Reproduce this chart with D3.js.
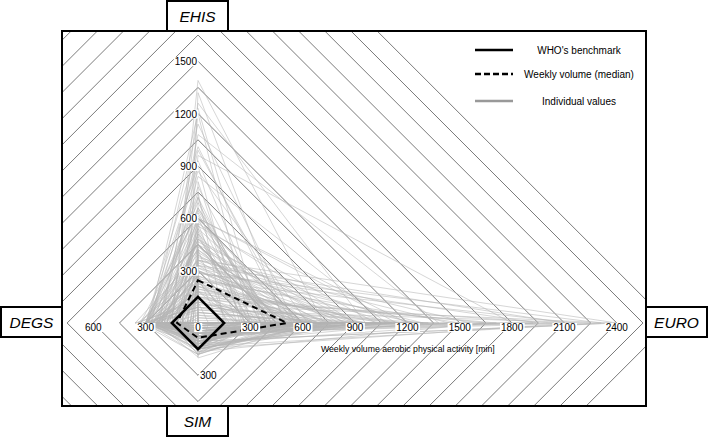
<!DOCTYPE html>
<html>
<head>
<meta charset="utf-8">
<script src="https://cdnjs.cloudflare.com/ajax/libs/d3/7.8.5/d3.min.js"></script>
<style>
  body { margin: 0; background: #fff; }
  svg { font-family: "Liberation Sans", Arial, sans-serif; }
</style>
</head>
<body>
<div id="chart"></div>
<script>
// axes, clockwise from the top
const axes = ["EHIS", "EURO", "SIM", "DEGS"];

// tick labels per axis (min)
const ehisTicks = [300, 600, 900, 1200, 1500];
const euroTicks = [0, 300, 600, 900, 1200, 1500, 1800, 2100, 2400];
const degsTicks = [300, 600];
const simTicks = [300];

// benchmark and median polygons: EHIS, EURO, SIM, DEGS
const whoBenchmark = [150, 150, 150, 150];
const weeklyMedian = [245, 510, 85, 120];

// individual values, one entry per person
const ehisValues = [
  420, 180, 600, 90, 300, 720, 240, 0, 1390, 360,
  150, 540, 60, 480, 210, 840, 120, 330, 660, 30,
  270, 1260, 390, 90, 510, 180, 960, 450, 0, 240,
  600, 135, 315, 75, 1200, 570, 225, 420, 45, 780,
  300, 165, 630, 360, 15, 900, 255, 480, 120, 345,
  690, 60, 1080, 210, 525, 285, 0, 405, 150, 750,
  195, 600, 330, 105, 1320, 450, 240, 555, 30, 375,
  870, 180, 270, 615, 90, 420, 1140, 300, 135, 495,
  225, 660, 60, 360, 1010, 270, 180, 540, 0, 435,
  315, 720, 120, 585, 240, 990, 390, 45, 465, 210,
  645, 150, 300, 810, 75, 510, 270, 1230, 360, 195,
  570, 0, 420, 240, 930, 330, 120, 480, 285, 600
];
const euroValues = [
  600, 240, 1200, 420, 900, 360, 1500, 180, 720, 2400,
  540, 300, 840, 0, 660, 1080, 450, 2100, 390, 780,
  120, 960, 510, 1320, 270, 630, 1800, 345, 570, 210,
  1140, 480, 750, 2250, 300, 900, 600, 165, 1020, 420,
  690, 1650, 360, 540, 810, 240, 1260, 480, 60, 930,
  390, 720, 1380, 570, 270, 1950, 450, 660, 840, 150,
  1110, 315, 600, 2370, 495, 780, 225, 1020, 405, 1560,
  630, 345, 870, 450, 1200, 0, 555, 690, 2040, 300,
  960, 420, 735, 1440, 510, 180, 1170, 600, 375, 810,
  1290, 255, 660, 465, 2160, 540, 720, 330, 900, 1050,
  405, 1710, 585, 270, 1005, 480, 630, 360, 1230, 780,
  225, 1920, 510, 675, 390, 1110, 450, 840, 2310, 570
];
const simValues = [
  60, 120, 0, 90, 150, 30, 75, 180, 45, 105,
  0, 135, 60, 90, 200, 15, 120, 45, 75, 150,
  30, 90, 165, 0, 60, 105, 45, 120, 180, 75,
  90, 0, 150, 60, 30, 135, 105, 15, 75, 120,
  45, 165, 90, 0, 60, 150, 30, 120, 195, 75,
  105, 45, 0, 90, 135, 60, 120, 30, 150, 15,
  75, 180, 45, 105, 90, 0, 60, 135, 120, 30,
  150, 75, 15, 90, 45, 165, 105, 60, 0, 120,
  30, 90, 150, 75, 45, 105, 0, 180, 60, 135,
  120, 15, 90, 45, 150, 75, 30, 105, 165, 60,
  0, 120, 45, 90, 75, 135, 15, 150, 60, 105,
  90, 30, 180, 60, 120, 0, 75, 45, 135, 90
];
const degsValues = [
  180, 240, 120, 300, 60, 210, 270, 0, 150, 330,
  90, 255, 300, 180, 30, 225, 360, 120, 285, 60,
  240, 150, 0, 315, 195, 270, 90, 300, 165, 45,
  210, 345, 120, 240, 285, 15, 180, 300, 75, 255,
  135, 270, 330, 90, 225, 300, 0, 195, 240, 150,
  300, 60, 210, 285, 120, 345, 180, 30, 270, 240,
  105, 300, 225, 165, 60, 255, 300, 135, 0, 210,
  285, 90, 240, 180, 315, 45, 270, 150, 225, 300,
  120, 195, 0, 255, 300, 75, 240, 165, 285, 210,
  30, 300, 150, 270, 105, 225, 360, 180, 60, 240,
  300, 135, 210, 0, 285, 165, 255, 90, 300, 195,
  240, 120, 330, 45, 270, 180, 300, 225, 150, 90
];

const width = 709;
const height = 437;
const cx = 198;
const cy = 323;
const plot = { x0: 62, y0: 31, x1: 646, y1: 406 };

const r = d3.scaleLinear().domain([0, 2400]).range([0, 418.8]);
const dirs = [[0, -1], [1, 0], [0, 1], [-1, 0]];

function corners(vals) {
  return vals.map((v, i) => [cx + dirs[i][0] * r(v), cy + dirs[i][1] * r(v)]);
}
const poly = d3.line().curve(d3.curveLinearClosed);

const svg = d3
  .select("#chart")
  .append("svg")
  .attr("width", width)
  .attr("height", height);

svg
  .append("clipPath")
  .attr("id", "clip")
  .append("rect")
  .attr("x", plot.x0)
  .attr("y", plot.y0)
  .attr("width", plot.x1 - plot.x0)
  .attr("height", plot.y1 - plot.y0);

const inner = svg.append("g").attr("clip-path", "url(#clip)");

// grid rings every 150 min
const gridLevels = d3.range(150, 2701, 150);
inner
  .selectAll("path.grid")
  .data(gridLevels)
  .enter()
  .append("path")
  .attr("class", "grid")
  .attr("d", (v) => poly(corners([v, v, v, v])))
  .attr("fill", "none")
  .attr("stroke", "#7a7a7a")
  .attr("stroke-width", 1);

// individual values
const people = ehisValues.map((d, i) => [d, euroValues[i], simValues[i], degsValues[i]]);
inner
  .selectAll("path.person")
  .data(people)
  .enter()
  .append("path")
  .attr("class", "person")
  .attr("d", (d) => poly(corners(d)))
  .attr("fill", "none")
  .attr("stroke", "#b4b4b4")
  .attr("stroke-opacity", 0.55)
  .attr("stroke-width", 1);

// tick labels, with a white patch behind each one
const tickFont = 10;
const labels = svg.append("g").attr("font-size", tickFont).attr("fill", "#000");
const tickData = []
  .concat(euroTicks.map((v) => ({ v: v, x: cx + r(v), y: cy + 8, anchor: "middle" })))
  .concat(degsTicks.map((v) => ({ v: v, x: cx - r(v), y: cy + 8, anchor: "middle" })))
  .concat(ehisTicks.map((v) => ({ v: v, x: cx - 1, y: cy - r(v) + 4, anchor: "end" })))
  .concat(simTicks.map((v) => ({ v: v, x: cx + 2, y: cy + r(v) + 4, anchor: "start" })));

const tickG = labels
  .selectAll("g.tick")
  .data(tickData)
  .enter()
  .append("g")
  .attr("class", "tick");
const tickBg = tickG.append("rect").attr("fill", "#fff");
tickG
  .append("text")
  .attr("x", (d) => d.x)
  .attr("y", (d) => d.y)
  .attr("text-anchor", (d) => d.anchor)
  .text((d) => d.v);
tickG.each(function () {
  const b = d3.select(this).select("text").node().getBBox();
  d3.select(this)
    .select("rect")
    .attr("x", b.x - 1)
    .attr("y", b.y + 1)
    .attr("width", b.width + 2)
    .attr("height", b.height - 2);
});

// benchmark and median on top
inner
  .append("path")
  .attr("d", poly(corners(whoBenchmark)))
  .attr("fill", "none")
  .attr("stroke", "#000")
  .attr("stroke-width", 2.5);

inner
  .append("path")
  .attr("d", poly(corners(weeklyMedian)))
  .attr("fill", "none")
  .attr("stroke", "#000")
  .attr("stroke-width", 2)
  .attr("stroke-dasharray", "6,4");

svg.node().appendChild(labels.node());

svg
  .append("text")
  .attr("x", 321)
  .attr("y", 352)
  .attr("font-size", 8.7)
  .text("Weekly volume aerobic physical activity [min]");

// plot frame
svg
  .append("rect")
  .attr("x", plot.x0)
  .attr("y", plot.y0)
  .attr("width", plot.x1 - plot.x0)
  .attr("height", plot.y1 - plot.y0)
  .attr("fill", "none")
  .attr("stroke", "#000")
  .attr("stroke-width", 2);

// axis name boxes
const boxes = [
  { name: "EHIS", x: 167, y: 1 },
  { name: "EURO", x: 646, y: 307 },
  { name: "SIM", x: 167, y: 406 },
  { name: "DEGS", x: 1, y: 307 }
];
const box = svg
  .selectAll("g.axisbox")
  .data(boxes)
  .enter()
  .append("g")
  .attr("class", "axisbox")
  .attr("transform", (d) => "translate(" + d.x + "," + d.y + ")");
box
  .append("rect")
  .attr("width", 61)
  .attr("height", 30)
  .attr("fill", "#fff")
  .attr("stroke", "#000")
  .attr("stroke-width", 2);
box
  .append("text")
  .attr("x", 30.5)
  .attr("y", 20.5)
  .attr("text-anchor", "middle")
  .attr("font-size", 15.5)
  .attr("font-style", "italic")
  .text((d) => d.name);

// legend
const legendItems = [
  { label: "WHO's benchmark", color: "#000", dash: null, y: 50 },
  { label: "Weekly volume (median)", color: "#000", dash: "6,3", y: 74 },
  { label: "Individual values", color: "#999", dash: null, y: 101 }
];
const legend = svg
  .selectAll("g.legend")
  .data(legendItems)
  .enter()
  .append("g")
  .attr("class", "legend");
legend
  .append("line")
  .attr("x1", 475)
  .attr("x2", 513)
  .attr("y1", (d) => d.y)
  .attr("y2", (d) => d.y)
  .attr("stroke", (d) => d.color)
  .attr("stroke-width", 2.5)
  .attr("stroke-dasharray", (d) => d.dash);
legend
  .append("text")
  .attr("x", 579)
  .attr("y", (d) => d.y + 4)
  .attr("text-anchor", "middle")
  .attr("font-size", 10)
  .text((d) => d.label);
</script>
</body>
</html>
